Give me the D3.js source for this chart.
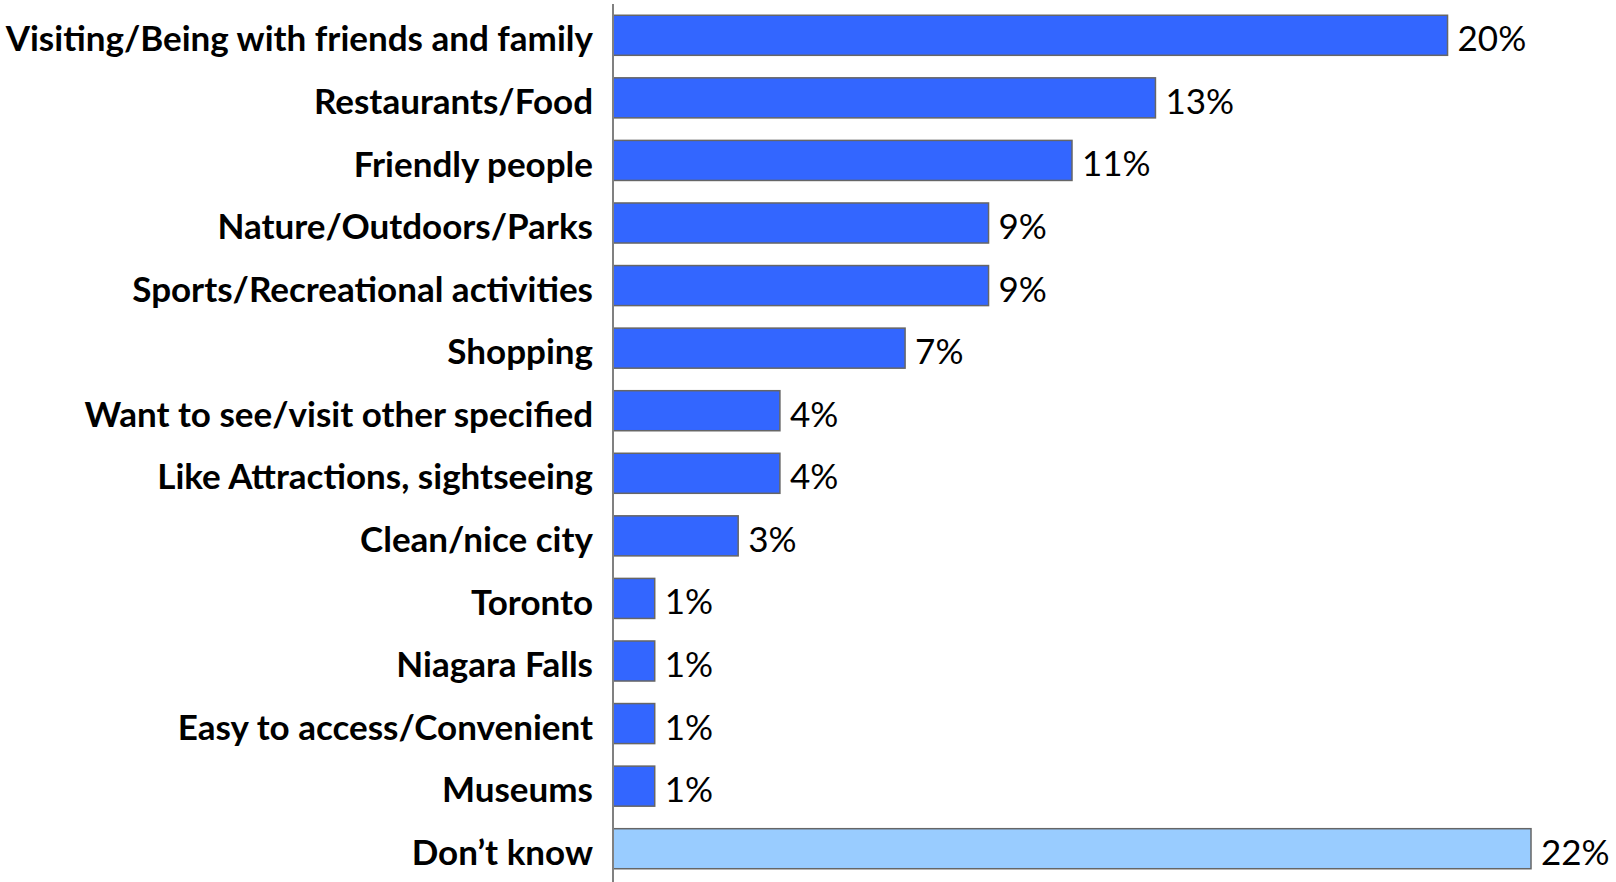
<!DOCTYPE html>
<html>
<head>
<meta charset="utf-8">
<script src="https://cdn.jsdelivr.net/npm/d3@7"></script>
<style>
    html, body { margin: 0; padding: 0; background: #fff; }
    svg { display: block; }
</style>
</head>
<body>
<div class="chart"></div>
<script>
// reasons, top to bottom
var categories = [
    'Visiting/Being with friends and family',
    'Restaurants/Food',
    'Friendly people',
    'Nature/Outdoors/Parks',
    'Sports/Recreational activities',
    'Shopping',
    'Want to see/visit other specified',
    'Like Attractions, sightseeing',
    'Clean/nice city',
    'Toronto',
    'Niagara Falls',
    'Easy to access/Convenient',
    'Museums',
    'Don\u2019t know'
];
var values = [20, 13, 11, 9, 9, 7, 4, 4, 3, 1, 1, 1, 1, 22];
var highlight = ['Don\u2019t know'];

var config = {
    w: 1616,
    h: 882,
    axisX: 613,
    colors: {
        main: '#3366ff',
        other: '#99ccff',
        stroke: '#666666',
        axis: '#808080'
    }
};

var data = categories.map(function (c, i) {
    return { name: c, value: values[i] };
});

var svg = d3.select('.chart')
    .append('svg')
    .attr('width', config.w)
    .attr('height', config.h);

var xScale = d3.scaleLinear()
    .domain([0, 22])
    .range([config.axisX, 1531]);

var yScale = d3.scaleBand()
    .domain(categories)
    .range([4, 880])
    .paddingInner(0.36)
    .paddingOuter(0.18);

svg.selectAll('rect.bar')
    .data(data)
    .enter()
    .append('rect')
    .attr('class', 'bar')
    .attr('x', xScale(0))
    .attr('y', function (d) { return yScale(d.name); })
    .attr('width', function (d) { return xScale(d.value) - xScale(0); })
    .attr('height', yScale.bandwidth())
    .attr('fill', function (d) {
        return highlight.indexOf(d.name) >= 0 ? config.colors.other : config.colors.main;
    })
    .attr('stroke', config.colors.stroke)
    .attr('stroke-width', 1.5);

// value labels
svg.selectAll('text.val')
    .data(data)
    .enter()
    .append('text')
    .attr('class', 'val')
    .attr('x', function (d) { return xScale(d.value) + 10; })
    .attr('y', function (d) { return yScale(d.name) + yScale.bandwidth() / 2 + 2; })
    .attr('dominant-baseline', 'central')
    .style('font-family', 'Lato, sans-serif')
    .style('font-size', '35px')
    .attr('fill', '#000')
    .text(function (d) { return d.value + '%'; });

// category axis
var yAxis = d3.axisLeft(yScale).tickSize(0).tickPadding(20);
var gAxis = svg.append('g')
    .attr('transform', 'translate(' + config.axisX + ',0)')
    .call(yAxis);

gAxis.select('.domain')
    .attr('d', 'M0,4V' + config.h)
    .attr('stroke', config.colors.axis)
    .attr('stroke-width', 2);

gAxis.selectAll('.tick text')
    .attr('dy', '0.46em')
    .style('font-family', 'Lato, sans-serif')
    .style('font-weight', 'bold')
    .style('font-size', '35px')
    .attr('fill', '#000');
</script>
</body>
</html>
